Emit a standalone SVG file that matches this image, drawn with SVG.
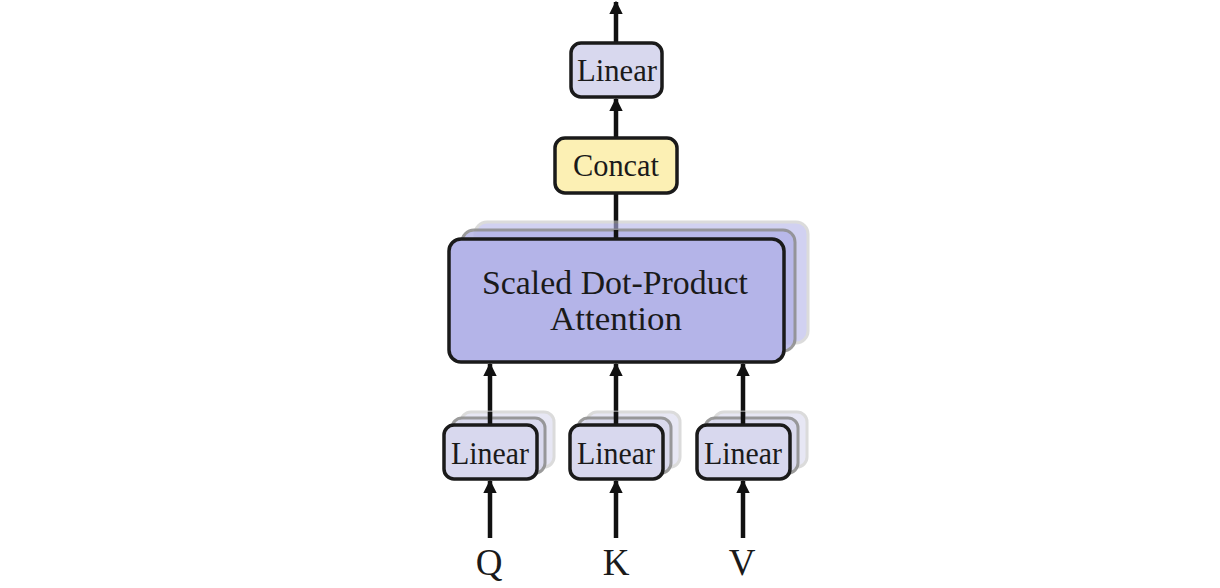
<svg xmlns="http://www.w3.org/2000/svg" width="1220" height="588" viewBox="0 0 1220 588">
<defs>
<style>
.box{stroke:#1a1a1a;stroke-width:3.5}
.lin{fill:#d8d8ee}
.att{fill:#b4b4e8}
.cc{fill:#fcf0b4}
.b2{stroke:#8a8a8a;stroke-width:3;opacity:0.85}
.b3{stroke:#c4c4c4;stroke-width:3;opacity:0.6}
.t{font-family:"Liberation Serif","Times New Roman",serif;fill:#1a1a1a;text-anchor:middle}
.ln{stroke:#111;stroke-width:4.5;fill:none}
</style>
<marker id="ah" viewBox="0 0 10 10" refX="9" refY="5" markerWidth="3" markerHeight="3.3" orient="auto" markerUnits="strokeWidth">
<path d="M0,0 L10,5 L0,10 z" fill="#111"/>
</marker>
</defs>
<rect width="1220" height="588" fill="#ffffff"/>

<g id="connectors">
<line class="ln" x1="616" y1="43" x2="616" y2="2" marker-end="url(#ah)"/>
<line class="ln" x1="616" y1="138" x2="616" y2="99" marker-end="url(#ah)"/>
<line class="ln" x1="616" y1="239" x2="616" y2="193"/>
<line class="ln" x1="490" y1="425" x2="490" y2="364" marker-end="url(#ah)"/>
<line class="ln" x1="616" y1="425" x2="616" y2="364" marker-end="url(#ah)"/>
<line class="ln" x1="743" y1="425" x2="743" y2="364" marker-end="url(#ah)"/>
<line class="ln" x1="490" y1="538" x2="490" y2="481" marker-end="url(#ah)"/>
<line class="ln" x1="616" y1="538" x2="616" y2="481" marker-end="url(#ah)"/>
<line class="ln" x1="743" y1="538" x2="743" y2="481" marker-end="url(#ah)"/>
</g>

<g id="attention">
<rect class="att b3" x="475" y="222" width="333" height="121" rx="12"/>
<rect class="att b2" x="462" y="230" width="333" height="121" rx="12"/>
<line class="ln" x1="616" y1="230" x2="616" y2="239"/>
<rect class="att box" x="449" y="239" width="335" height="123" rx="12"/>
<text class="t" x="615" y="294" font-size="33" textLength="266" lengthAdjust="spacingAndGlyphs">Scaled Dot-Product</text>
<text class="t" x="616" y="330" font-size="33" textLength="132" lengthAdjust="spacingAndGlyphs">Attention</text>
</g>

<g id="concat">
<rect class="cc box" x="555" y="138" width="122" height="55" rx="10"/>
<text class="t" x="616" y="176" font-size="31" textLength="86" lengthAdjust="spacingAndGlyphs">Concat</text>
</g>

<g id="linear-top">
<rect class="lin box" x="571" y="43" width="91" height="54" rx="10"/>
<text class="t" x="617" y="81" font-size="31" textLength="80" lengthAdjust="spacingAndGlyphs">Linear</text>
</g>

<g id="linear-q">
<rect class="lin b3" x="461" y="412" width="93" height="55" rx="10"/>
<rect class="lin b2" x="452" y="418" width="93" height="55" rx="10"/>
<line class="ln" x1="490" y1="412" x2="490" y2="425"/>
<rect class="lin box" x="444" y="425" width="93" height="54" rx="10"/>
<text class="t" x="490" y="464" font-size="31" textLength="78" lengthAdjust="spacingAndGlyphs">Linear</text>
</g>

<g id="linear-k">
<rect class="lin b3" x="587" y="412" width="93" height="55" rx="10"/>
<rect class="lin b2" x="578" y="418" width="93" height="55" rx="10"/>
<line class="ln" x1="616" y1="412" x2="616" y2="425"/>
<rect class="lin box" x="570" y="425" width="93" height="54" rx="10"/>
<text class="t" x="616" y="464" font-size="31" textLength="78" lengthAdjust="spacingAndGlyphs">Linear</text>
</g>

<g id="linear-v">
<rect class="lin b3" x="714" y="412" width="93" height="55" rx="10"/>
<rect class="lin b2" x="705" y="418" width="93" height="55" rx="10"/>
<line class="ln" x1="743" y1="412" x2="743" y2="425"/>
<rect class="lin box" x="697" y="425" width="93" height="54" rx="10"/>
<text class="t" x="743" y="464" font-size="31" textLength="78" lengthAdjust="spacingAndGlyphs">Linear</text>
</g>

<g id="inputs">
<text class="t" x="489" y="575" font-size="37">Q</text>
<text class="t" x="616" y="575" font-size="37">K</text>
<text class="t" x="742" y="575" font-size="37">V</text>
</g>
</svg>
